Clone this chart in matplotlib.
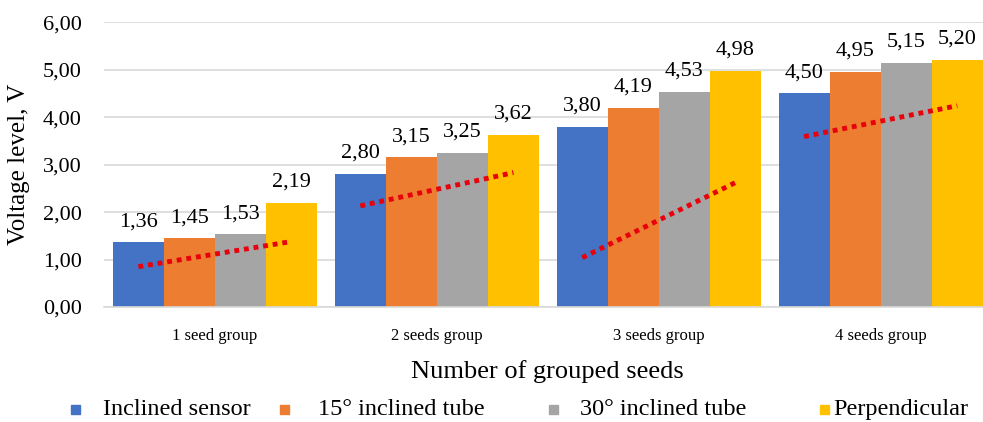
import matplotlib
matplotlib.use("Agg")
import matplotlib.pyplot as plt
from matplotlib.patches import Rectangle
import numpy as np

# data
groups = ["1 seed group", "2 seeds group", "3 seeds group", "4 seeds group"]
series = ["Inclined sensor", "15° inclined tube", "30° inclined tube", "Perpendicular"]
inclined_sensor = [1.36, 2.80, 3.80, 4.50]
tube_15 = [1.45, 3.15, 4.19, 4.95]
tube_30 = [1.53, 3.25, 4.53, 5.15]
perpendicular = [2.19, 3.62, 4.98, 5.20]
# red dotted trend lines (value at first bar, value at last bar)
trend_start = [0.85, 2.13, 1.04, 3.59]
trend_end = [1.38, 2.83, 2.62, 4.24]

colors = ["#4472C4", "#ED7D31", "#A5A5A5", "#FFC000"]
values = [inclined_sensor, tube_15, tube_30, perpendicular]

plt.rcParams['font.family'] = ['Liberation Serif', 'DejaVu Serif']

W, H = 983, 422
fig = plt.figure(figsize=(W / 100, H / 100), dpi=100)
ax = fig.add_axes([0.1058, 0.2725, 0.903, 0.675])

x = np.arange(len(groups))
bw = 0.23
for i, (vals, c) in enumerate(zip(values, colors)):
    pos = x + (i - 1.5) * bw
    ax.bar(pos, vals, bw, color=c, label=series[i], zorder=2)
    for p, v in zip(pos, vals):
        ax.annotate(("%.2f" % v).replace(".", ","), (p, v), xytext=(0, 8),
                    textcoords="offset points", ha="center", va="bottom", fontsize=16)

for g in range(len(groups)):
    ax.plot([x[g] - 1.5 * bw, x[g] + 1.5 * bw], [trend_start[g], trend_end[g]],
            color="#E8000B", linestyle=(0, (1, 1)), linewidth=3.5, zorder=3)

ax.set_xlim(-0.5, 3.5)
ax.set_ylim(0, 6)
ax.set_yticks(np.arange(0, 7, 1))
ax.set_yticklabels([("%.2f" % t).replace(".", ",") for t in np.arange(0, 7, 1)], fontsize=16)
ax.set_xticks(x)
ax.set_xticklabels(groups, fontsize=12)
ax.tick_params(axis="y", length=0, pad=16)
ax.tick_params(axis="x", length=0, pad=15)
ax.grid(axis="y", color="#D9D9D9", linewidth=1.2, zorder=0)
ax.set_axisbelow(True)
for s in ["top", "right", "left"]:
    ax.spines[s].set_visible(False)
ax.spines["bottom"].set_color("#D9D9D9")
ax.spines["bottom"].set_linewidth(1.2)

ax.set_ylabel("Voltage level, V", fontsize=18, labelpad=9)
ax.set_xlabel("Number of grouped seeds", fontsize=19, labelpad=12)

# legend entries laid out like the original (pixel positions of marker and text)
marker_x = [71, 280, 549, 820]
text_x = [103, 318, 580, 833]
leg_y = 409
for mx, tx, lab, c in zip(marker_x, text_x, series, colors):
    fig.add_artist(Rectangle((mx / W, (H - leg_y - 4.5) / H), 9 / W, 9 / H,
                             transform=fig.transFigure, color=c))
    fig.text(tx / W, (H - leg_y - 6) / H, lab, fontsize=17.5, ha="left", va="baseline")

fig.savefig("out.png", dpi=100)
